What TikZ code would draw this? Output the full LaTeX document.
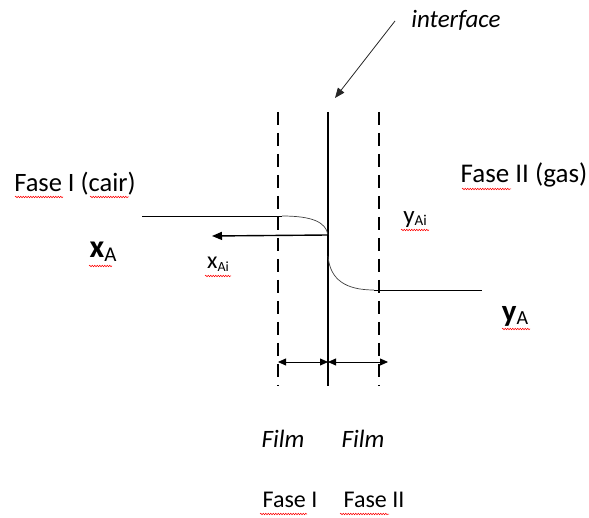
\documentclass[tikz,border=0pt]{standalone}
\usepackage{fontspec}
\setmainfont{Carlito}
\usetikzlibrary{arrows.meta,decorations.pathmorphing}
\newcommand{\subx}[3]{\raisebox{-#1}{\fontsize{#2}{#2}\selectfont\mdseries #3}}
\begin{document}
\begin{tikzpicture}[x=1pt,y=-1pt,
  lbl/.style={inner sep=0pt,font=\fontsize{24}{28}\selectfont},
  sq/.style={red,line width=0.5pt,decorate,decoration={snake,amplitude=0.8pt,segment length=2.5pt}},
  dashline/.style={line width=1.6pt,dash pattern=on 13pt off 8pt},
  tip/.style={-{Triangle[length=10pt,width=8pt]}},
  dtip/.style={{Triangle[length=8pt,width=7pt]}-{Triangle[length=8pt,width=7pt]}}]
\useasboundingbox (0,0) rectangle (589,518);
% film boundaries and interface
\coordinate (lt) at (278,112); \coordinate (lb) at (278,386);
\coordinate (rt) at (379,112); \coordinate (rb) at (379,386);
\coordinate (it) at (328,112); \coordinate (ib) at (328,386);
\draw[dashline] (lt) -- (lb);
\draw[dashline] (rt) -- (rb);
\draw[line width=2pt] (it) -- (ib);
% concentration profiles
\coordinate (xa0) at (142,216);
\coordinate (xa1) at (282,216);
\coordinate (xi) at (328,235);
\coordinate (yi) at (328,256);
\coordinate (ya1) at (374,290);
\coordinate (ya0) at (482,290);
\draw[line width=0.9pt] (xa0) -- (xa1);
\draw[line width=0.7pt,black!75] (xa1) .. controls (312,216) and (326,222) .. (xi);
\draw[line width=0.7pt,black!75] (yi) .. controls (330,280) and (346,290) .. (ya1);
\draw[line width=0.9pt] (ya1) -- (ya0);
% flux arrow
\coordinate (fa) at (212,236);
\draw[line width=1.4pt,tip] (xi) -- (fa);
% film thickness arrows
\coordinate (d1) at (278,362); \coordinate (d2) at (328,362); \coordinate (d3) at (388,362);
\draw[line width=0.8pt,dtip] (d1) -- (d2);
\draw[line width=0.8pt,dtip] (d2) -- (d3);
% interface label and arrow
\node[lbl,font=\fontsize{25}{28}\selectfont\itshape] (iface) at (456,20) {interface};
\coordinate (ifs) at (395,21);
\coordinate (ife) at (335,98);
\draw[line width=0.8pt,black!85,tip] (ifs) -- (ife);
% labels
\node[lbl,font=\fontsize{26.5}{28}\selectfont] (f1) at (75,184) {Fase I (cair)};
\node[lbl,font=\fontsize{27}{28}\selectfont] (f2) at (524,175) {Fase II (gas)};
\node[lbl,font=\fontsize{32}{34}\selectfont\bfseries] (xA) at (103,252) {x\subx{4pt}{21}{A}};
\node[lbl,font=\fontsize{24}{26}\selectfont] (xAi) at (218,264) {x\subx{3pt}{14}{Ai}};
\node[lbl,font=\fontsize{25}{26}\selectfont] (yAi) at (415,220) {y\subx{2pt}{15}{Ai}};
\node[lbl,font=\fontsize{31}{32}\selectfont\bfseries] (yA) at (515,316) {y\subx{3pt}{20}{A}};
\node[lbl,font=\fontsize{25}{28}\selectfont\itshape] (fl1) at (283,439) {Film};
\node[lbl,font=\fontsize{25}{28}\selectfont\itshape] (fl2) at (363,439) {Film};
\node[lbl] (b1) at (290,500) {Fase I};
\node[lbl] (b2) at (374,500) {Fase II};
% spell-check squiggles
\draw[sq] (15,197) -- (63,197);
\draw[sq] (90,197) -- (129,197);
\draw[sq] (462,189) -- (511,189);
\draw[sq] (89,266) -- (112,266);
\draw[sq] (205,276) -- (231,276);
\draw[sq] (401,230) -- (429,230);
\draw[sq] (502,329) -- (530,329);
\draw[sq] (260,514) -- (307,514);
\draw[sq] (340,514) -- (389,514);
\end{tikzpicture}
\end{document}
